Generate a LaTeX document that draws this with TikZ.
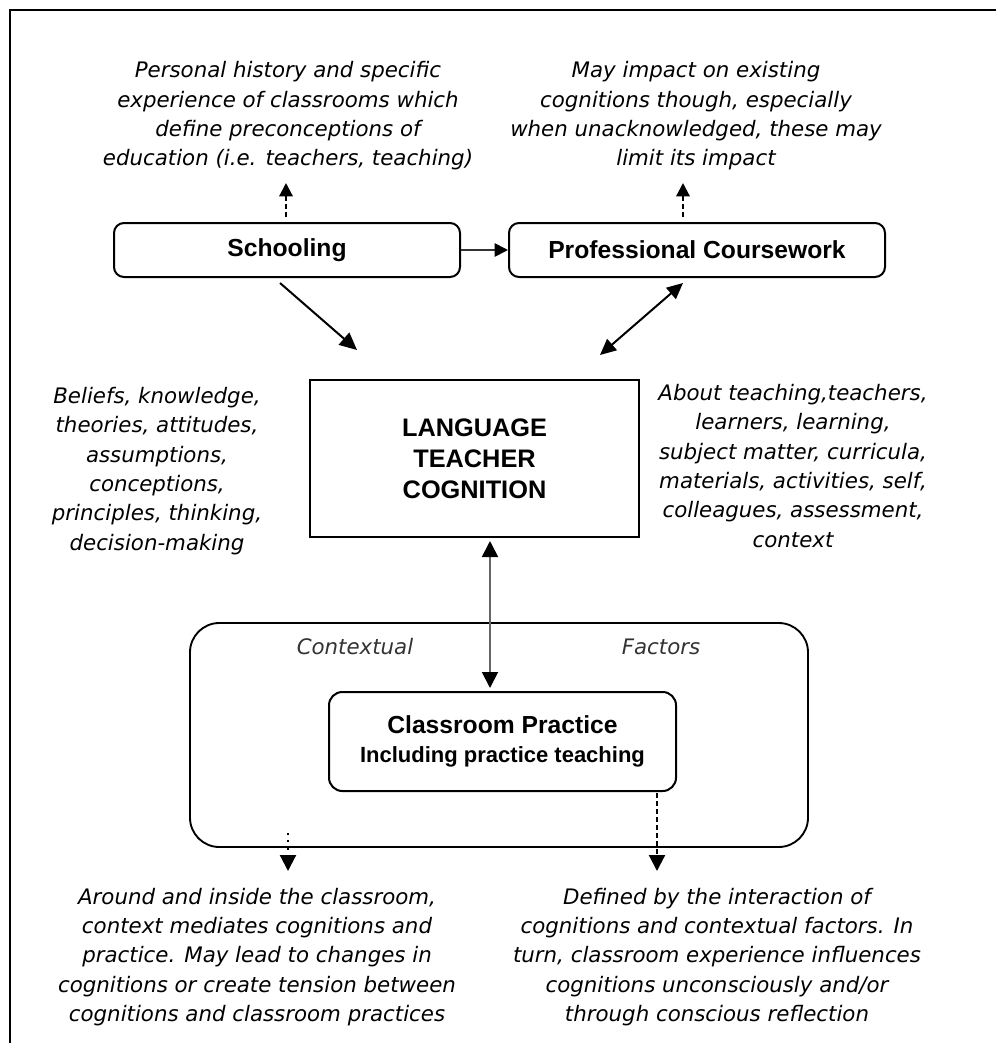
\documentclass[tikz,border=0pt]{standalone}
\usepackage{fontspec}
\setmainfont{Liberation Sans}
\newfontfamily\itf{DejaVu Sans}
\usetikzlibrary{arrows.meta}
\tikzset{
  box/.style={draw, line width=1.5pt, rounded corners=7.5pt, inner sep=0pt, align=center,
    font=\fontsize{18.5}{24}\selectfont\bfseries},
  note/.style={align=center, inner sep=0pt, font=\itf\itshape\fontsize{16}{22}\selectfont},
  arr/.style={line width=1.5pt, -{Triangle[length=13pt,width=12pt]}},
  dbl/.style={line width=1.5pt, {Triangle[length=12pt,width=11pt]}-{Triangle[length=12pt,width=11pt]}},
  dsh/.style={line width=1.6pt, dash pattern=on 3.5pt off 2.5pt, -{Triangle[length=10pt,width=10pt]}},
}
\begin{document}
\begin{tikzpicture}[x=0.75pt,y=-0.75pt]
\useasboundingbox (0,0) rectangle (996,1043);
% frame
\draw[line width=1.5pt] (10,1043) -- (10,10) -- (996,10);

% boxes
\node[box, minimum width=259.5pt, minimum height=40.5pt] (school) at (287,250) {Schooling};
\node[box, minimum width=282pt, minimum height=40.5pt] (prof) at (697,250) {Professional Coursework};
\node[box, rounded corners=0pt, line width=1.9pt, minimum width=246.75pt, minimum height=117.75pt,
  font=\fontsize{19}{23.3}\selectfont\bfseries] (ltc) at (474.5,458.5) {LANGUAGE\\TEACHER\\COGNITION};
\node[box, rounded corners=22pt, line width=1.4pt, minimum width=463.5pt, minimum height=168pt] (ctx) at (499,735) {};
\node[box, rounded corners=10pt, minimum width=260.25pt, minimum height=74.25pt,
  font=\fontsize{18.5}{22}\selectfont\bfseries] (cp) at (502.5,741.5)
  {Classroom Practice\\{\fontsize{16.5}{22}\selectfont Including practice teaching}};

% texts
\node[note] (tl) at (288,116) {Personal history and specific\\experience of classrooms which\\define preconceptions of\\education (i.e. teachers, teaching)};
\node[note] (tr) at (696,116) {May impact on existing\\cognitions though, especially\\when unacknowledged, these may\\limit its impact};
\node[note] (lt) at (157,471) {Beliefs, knowledge,\\theories, attitudes,\\assumptions,\\conceptions,\\principles, thinking,\\decision-making};
\node[note] (rt) at (793,466) {About teaching,teachers,\\learners, learning,\\subject matter, curricula,\\materials, activities, self,\\colleagues, assessment,\\context};
\node[note, text=black!80] (ctxl) at (355,647) {Contextual};
\node[note, text=black!80] (ctxr) at (661,647) {Factors};
\node[note] (bl) at (257,957) {Around and inside the classroom,\\context mediates cognitions and\\practice. May lead to changes in\\cognitions or create tension between\\cognitions and classroom practices};
\node[note] (br) at (717,957) {Defined by the interaction of\\cognitions and contextual factors. In\\turn, classroom experience influences\\cognitions unconsciously and/or\\through conscious reflection};

% coordinates
\coordinate (s1) at (286,217);
\coordinate (s2) at (286,183);
\coordinate (p1) at (683,217);
\coordinate (p2) at (683,183);
\coordinate (a1) at (280,283);
\coordinate (a2) at (357,350);
\coordinate (b1) at (683,283);
\coordinate (b2) at (600,355);
\coordinate (v1) at (490,541);
\coordinate (v2) at (490,688);
\coordinate (d1) at (288,833);
\coordinate (d2) at (288,871);
\coordinate (e1) at (657,793);
\coordinate (e2) at (657,871);

% connectors
\draw[dsh] (s1) -- (s2);
\draw[dsh] (p1) -- (p2);
\draw[line width=1.3pt, black!80, -{Triangle[length=10pt,width=10pt,color=black]}] (school.east) -- (prof.west);
\draw[arr] (a1) -- (a2);
\draw[dbl] (b1) -- (b2);
\draw[line width=1.4pt, black!60, {Triangle[length=12pt,width=12pt,color=black]}-{Triangle[length=12pt,width=12pt,color=black]}] (v1) -- (v2);
\draw[dsh, dash pattern=on 1.5pt off 4pt, -{Triangle[length=12pt,width=12pt]}] (d1) -- (d2);
\draw[dsh, -{Triangle[length=12pt,width=12pt]}] (e1) -- (e2);
\end{tikzpicture}
\end{document}
